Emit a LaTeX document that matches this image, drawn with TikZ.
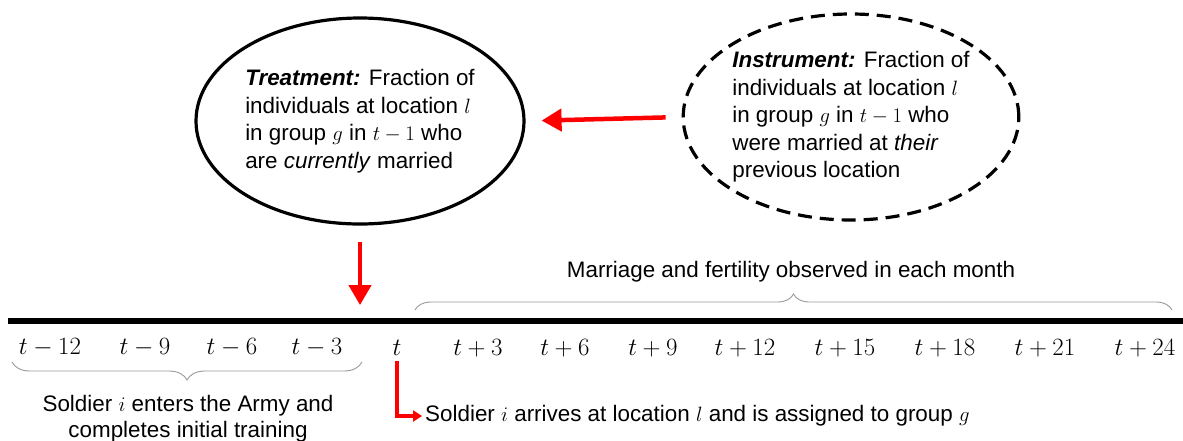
\documentclass[tikz,border=0pt]{standalone}
\usepackage{fontspec}
\setmainfont{Liberation Sans}
\usetikzlibrary{arrows.meta,decorations.pathreplacing,shapes.geometric}
\begin{document}
\begin{tikzpicture}[x=1pt,y=-1pt,
  txt/.style={font=\fontsize{22.4}{27.5}\selectfont, align=left, inner sep=0pt},
  bubble/.style={ellipse, draw=black, line width=3.2pt, inner sep=0pt,
    minimum width=328pt, minimum height=206pt, align=left,
    font=\fontsize{22.4}{27.5}\selectfont},
  dashbubble/.style={bubble, dash pattern=on 14pt off 8pt},
  redarrow/.style={draw=red, line width=4.5pt, -{Triangle[length=20pt,width=22pt]}},
  redelbow/.style={draw=red, line width=3.5pt, -{Triangle[length=9pt,width=11pt]}},
  timeline/.style={draw=black, line width=6pt},
  tlabel/.style={font=\fontsize{26}{30}\selectfont, inner sep=0pt},
  bracestyle/.style={draw=gray!80, line width=0.9pt, decorate,
    decoration={brace, amplitude=#1}},
]
\useasboundingbox (0,0) rectangle (1183,440);

% bubbles
\node[bubble] (treat) at (360,121) {\textbf{\textit{Treatment:}} Fraction of\\
individuals at location $l$\\
in group $g$ in $t-1$ who\\
are \textit{currently} married};
\node[dashbubble] (instr) at (851,117) {\textbf{\textit{Instrument:}} Fraction of\\
individuals at location $l$\\
in group $g$ in $t-1$ who\\
were married at \textit{their}\\
previous location};

\draw[redarrow, shorten <=16pt, shorten >=16pt] (instr.west) -- (treat.east);

% timeline
\coordinate (tlL) at (8,321);
\coordinate (tlR) at (1183,321);
\coordinate (tick) at (360,321);
\draw[timeline] (tlL) -- (tlR);
\draw[redarrow, shorten <=16pt, shorten >=16pt] (treat.south) -- (tick);

% labels
\node[tlabel] (m12) at (50,348) {$t-12$};
\node[tlabel] (m9) at (145,348) {$t-9$};
\node[tlabel] (m6) at (232,348) {$t-6$};
\node[tlabel] (m3) at (317,348) {$t-3$};
\node[tlabel] (t0) at (397,348) {$t$};
\node[tlabel] (p3) at (478,348) {$t+3$};
\node[tlabel] (p6) at (565,348) {$t+6$};
\node[tlabel] (p9) at (653,348) {$t+9$};
\node[tlabel] (p12) at (745,348) {$t+12$};
\node[tlabel] (p15) at (845,348) {$t+15$};
\node[tlabel] (p18) at (945,348) {$t+18$};
\node[tlabel] (p21) at (1045,348) {$t+21$};
\node[tlabel] (p24) at (1145,348) {$t+24$};

% upper brace
\coordinate (ubL) at (415,310);
\coordinate (ubR) at (1172,310);
\draw[bracestyle=16pt] (ubL) -- (ubR);
\node[txt] (obs) at (791,272) {Marriage and fertility observed in each month};

% lower brace
\coordinate (lbL) at (12,362);
\coordinate (lbR) at (362,362);
\draw[bracestyle=18pt] (lbR) -- (lbL);
\node[txt, align=center, font=\fontsize{22.4}{26}\selectfont, anchor=north] (enter) at (188,395) {Soldier $i$ enters the Army and\\completes initial training};

% elbow arrow
\node[txt, anchor=west] (arr) at (425,416) {Soldier $i$ arrives at location $l$ and is assigned to group $g$};
\draw[redelbow, shorten <=5pt, shorten >=3pt] (t0.south) |- (arr.west);
\end{tikzpicture}
\end{document}
